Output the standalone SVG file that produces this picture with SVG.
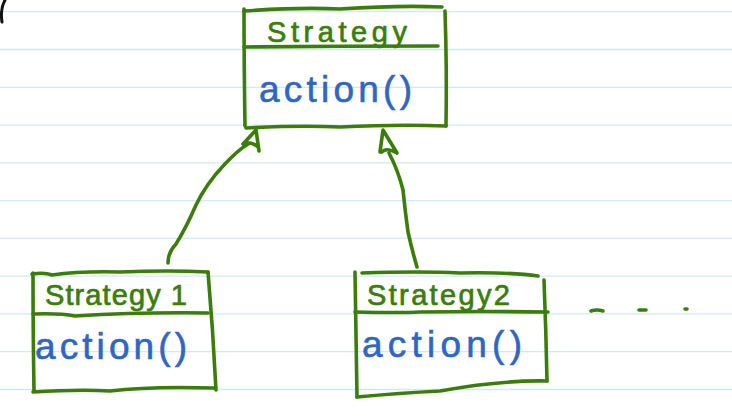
<svg xmlns="http://www.w3.org/2000/svg" width="732" height="418" viewBox="0 0 732 418">
<defs>
<style>
.rule{stroke:#d3e8f6;stroke-width:1.3}
.ink{fill:none;stroke:#3b7d0b;stroke-width:3.6;stroke-linecap:round;stroke-linejoin:round}
.title{font-family:"Liberation Sans","DejaVu Sans",sans-serif;font-size:29px;fill:#3b7d0b;stroke:#3b7d0b;stroke-width:0.7}
.op{font-family:"Liberation Sans","DejaVu Sans",sans-serif;font-size:37px;fill:#2f66c4;stroke:#2f66c4;stroke-width:0.6}
</style>
</defs>
<rect width="732" height="418" fill="#ffffff"/>
<g id="paper">
<line class="rule" x1="0" y1="11.7" x2="732" y2="11.7"/>
<line class="rule" x1="0" y1="49.5" x2="732" y2="49.5"/>
<line class="rule" x1="0" y1="87.3" x2="732" y2="87.3"/>
<line class="rule" x1="0" y1="125.1" x2="732" y2="125.1"/>
<line class="rule" x1="0" y1="162.8" x2="732" y2="162.8"/>
<line class="rule" x1="0" y1="200.6" x2="732" y2="200.6"/>
<line class="rule" x1="0" y1="238.4" x2="732" y2="238.4"/>
<line class="rule" x1="0" y1="276.2" x2="732" y2="276.2"/>
<line class="rule" x1="0" y1="313.9" x2="732" y2="313.9"/>
<line class="rule" x1="0" y1="351.7" x2="732" y2="351.7"/>
<line class="rule" x1="0" y1="389.5" x2="732" y2="389.5"/>
<path d="M5,0 Q0,9 2,22" fill="none" stroke="#111" stroke-width="3" stroke-linecap="round"/>
</g>
<g id="connectors">
<path class="ink" d="M168,263 Q168,252 176,244 Q186,228 196,205 Q206,184 224,165 Q238,150 248,144"/>
<path class="ink" d="M243,144 L256,130 L259,151 M244,143 Q252,142 257,146"/>
<path class="ink" d="M417,267 Q412,250 408,232 Q405,210 403,190 Q398,170 389,153"/>
<path class="ink" d="M380,152 L383,130 L397,153 M382,152 Q386,147 397,153"/>
</g>
<g id="strategy">
<path class="ink" d="M244,11 Q300,7 340,9 Q400,5 442,7"/>
<path class="ink" d="M244,9 Q244,60 245,126"/>
<path class="ink" d="M445,11 Q447,70 446,126"/>
<path class="ink" d="M244,47 Q340,46 438,46"/>
<path class="ink" d="M246,128 Q300,125 340,127 Q400,124 446,126"/>
<text class="title" x="267" y="42" textLength="140" lengthAdjust="spacing">Strategy</text>
<text class="op" x="259" y="102" textLength="153" lengthAdjust="spacing">action()</text>
</g>
<g id="strategy1">
<path class="ink" d="M32,274 Q45,272 52,275 Q80,271 120,272 Q170,270 208,272"/>
<path class="ink" d="M33,273 Q33,330 34,391"/>
<path class="ink" d="M208,272 Q213,330 216,390"/>
<path class="ink" d="M33,314 Q60,313 75,316 Q140,312 208,313"/>
<path class="ink" d="M33,392 Q80,389 110,391 Q150,386 215,388"/>
<text class="title" x="45" y="305" textLength="142" lengthAdjust="spacing">Strategy 1</text>
<text class="op" x="35" y="359" textLength="152" lengthAdjust="spacing">action()</text>
</g>
<g id="strategy2">
<path class="ink" d="M362,273 Q420,271 460,273 Q510,272 538,276"/>
<path class="ink" d="M355,272 Q356,330 357,397"/>
<path class="ink" d="M544,280 Q546,330 547,381"/>
<path class="ink" d="M355,312 Q400,313 420,312 Q480,311 548,312"/>
<path class="ink" d="M357,397 Q400,393 440,391 Q500,380 547,381"/>
<text class="title" x="367" y="305" textLength="143" lengthAdjust="spacing">Strategy2</text>
<text class="op" x="362" y="357" textLength="160" lengthAdjust="spacing">action()</text>
</g>
<g id="ellipsis">
<path class="ink" d="M591,311 Q597,309 603,311"/>
<path class="ink" d="M639,310 L646,310"/>
<path class="ink" d="M685,309 L687,309"/>
</g>
</svg>
